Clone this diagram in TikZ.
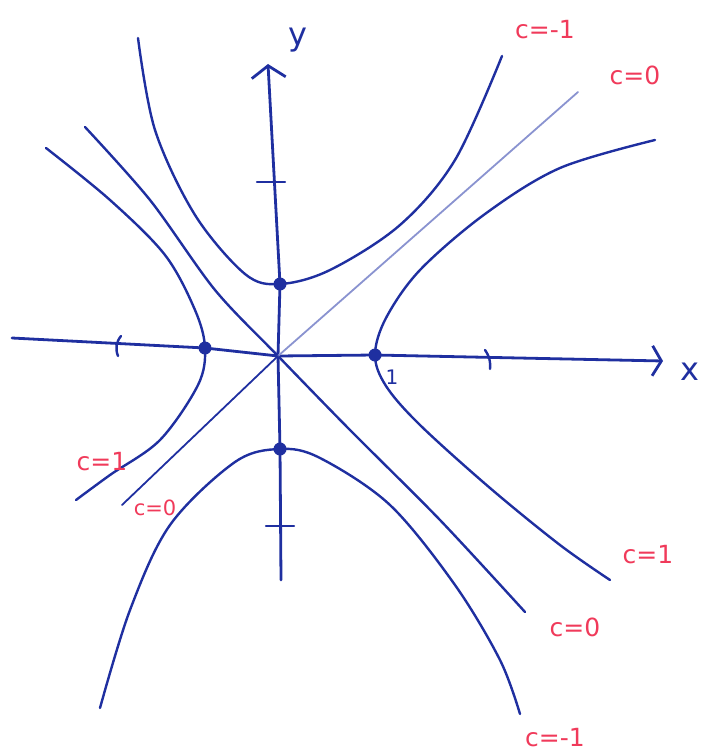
\documentclass[tikz,border=0pt]{standalone}
\usepackage{fontspec}
\setmainfont{DejaVu Sans}
\usetikzlibrary{arrows.meta}
\definecolor{ink}{HTML}{1F2FA0}
\definecolor{paleink}{HTML}{8A93D0}
\definecolor{redink}{HTML}{F03A5A}

\begin{document}
\begin{tikzpicture}[x=1pt, y=-1pt,
    axis/.style={ink, line width=2.8pt, line cap=round},
    curve/.style={ink, line width=2.4pt, line cap=round, line join=round},
    asym/.style={curve, line width=1.8pt},
    tick/.style={ink, line width=2.4pt, line cap=round},
    vertex/.style={circle, fill=ink, inner sep=0pt, minimum size=13pt},
    clabel/.style={redink, font=\fontsize{25}{30}\selectfont, inner sep=1pt},
    alabel/.style={ink, font=\fontsize{32}{36}\selectfont, inner sep=1pt}]
  \useasboundingbox (0,0) rectangle (711,752);

  % origin and vertices
  \coordinate (O) at (278,356);
  \node[vertex] (vright) at (375,355) {};
  \node[vertex] (vleft) at (205,348) {};
  \node[vertex] (vtop) at (280,284) {};
  \node[vertex] (vbot) at (280,449) {};

  % axes
  \coordinate (xstart) at (12,338);
  \coordinate (xend) at (663,361);
  \coordinate (ystart) at (281,580);
  \coordinate (yend) at (268,64);
  \draw[axis, -{Straight Barb[length=9pt, width=30pt]}] (xstart) -- (vleft.center) -- (O) -- (vright.center) -- (xend);
  \draw[axis, -{Straight Barb[length=12pt, width=34pt]}] (ystart) -- (vbot.center) -- (O) -- (vtop.center) -- (yend);
  \node[alabel] (xlab) at (690,372) {x};
  \node[alabel] (ylab) at (298,40) {y};

  % ticks
  \draw[tick] (121,336) to[bend right=30] (118,356);
  \draw[tick] (485,350) to[bend left=20] (490,369);
  \draw[tick] (257,182) -- (285,182);
  \draw[tick] (266,526) -- (294,526);
  \node[ink, font=\fontsize{20}{24}\selectfont] (one) at (392,377) {1};

  % c = 1
  \draw[curve] plot[smooth, tension=0.55] coordinates {(655,140) (560,168) (485,214) (420,270) (386,318)
    (vright.center) (386,386) (420,425) (490,488) (560,545) (610,580)};
  \draw[curve] plot[smooth, tension=0.55] coordinates {(46,148) (110,200) (165,255) (195,310)
    (vleft.center) (198,385) (160,440) (110,475) (76,500)};

  % c = 0
  \draw[curve] plot[smooth, tension=0.5] coordinates {(85,127) (150,200) (215,290) (O) (350,430) (440,520) (525,612)};
  \draw[asym, paleink] (O) -- (578,92);
  \draw[asym] (O) -- (122,505);

  % c = -1
  \draw[curve] plot[smooth, tension=0.55] coordinates {(138,38) (155,130) (195,215) (245,274)
    (vtop.center) (330,270) (400,225) (455,160) (502,56)};
  \draw[curve] plot[smooth, tension=0.55] coordinates {(100,708) (130,610) (170,525) (235,462)
    (vbot.center) (320,458) (390,505) (455,585) (500,660) (520,714)};

  % labels
  \node[clabel] (cm1top) at (545,30) {c=-1};
  \node[clabel] (c0top) at (635,75) {c=0};
  \node[clabel] (c1left) at (102,462) {c=1};
  \node[clabel, font=\fontsize{21}{25}\selectfont] (c0left) at (155,508) {c=0};
  \node[clabel] (c1right) at (648,555) {c=1};
  \node[clabel] (c0right) at (575,627) {c=0};
  \node[clabel] (cm1bot) at (555,738) {c=-1};
\end{tikzpicture}
\end{document}
